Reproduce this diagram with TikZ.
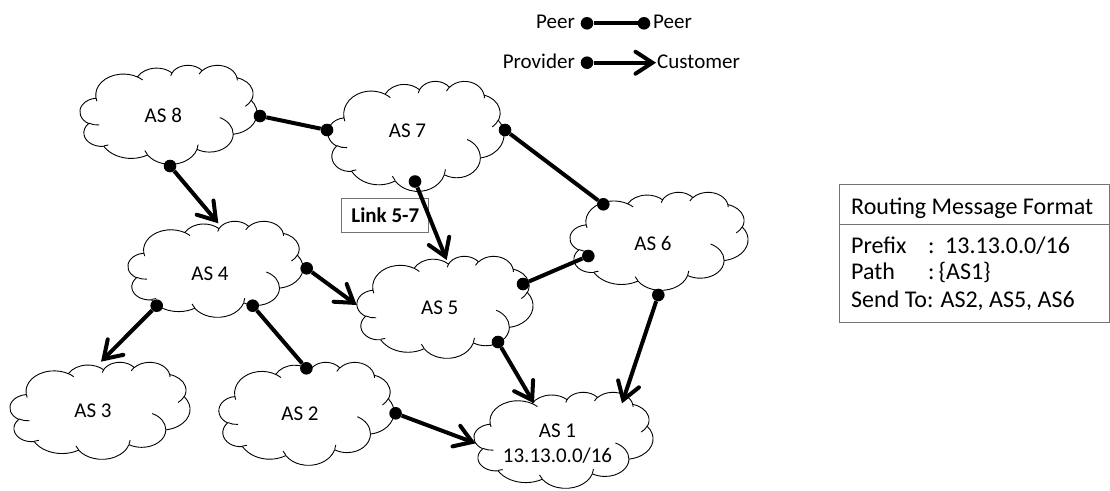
\documentclass[tikz,border=0pt]{standalone}
\usepackage{fontspec}
\setmainfont{Carlito}
\usetikzlibrary{decorations.markings}

% one elliptic arc of the Office cloud outline (visual angles -> parametric)
\newcommand\cloudarc[4]{arc[start angle={atan2(#1*sin(#3),#2*cos(#3))},delta angle={mod(atan2(#1*sin(#3+#4),#2*cos(#3+#4))-atan2(#1*sin(#3),#2*cos(#3))+720,360)},x radius=#1,y radius=#2]}

\tikzset{
  cloudline/.style={draw=black, line width=0.9pt, line join=round},
  ascloud/.pic={
    \path[cloudline, fill=white] (39.00,143.70)
      \cloudarc{67.53}{91.90}{-190.4875}{123.7805}
      \cloudarc{53.33}{72.67}{-144.1024}{89.9452}
      \cloudarc{43.65}{59.45}{-145.8079}{99.7230}
      \cloudarc{48.57}{65.95}{-130.9861}{117.2417}
      \cloudarc{53.33}{72.73}{-78.7089}{109.0269}
      \cloudarc{67.75}{92.20}{-46.2673}{130.2690}
      \cloudarc{57.85}{78.67}{0.6250}{114.0333}
      \cloudarc{67.52}{92.15}{22.4516}{115.1726}
      \cloudarc{77.20}{105.43}{66.2426}{75.7110}
      \cloudarc{43.60}{59.18}{-274.9421}{146.7356}
      \cloudarc{43.45}{59.45}{-246.8285}{152.5189} -- cycle;
    \path[cloudline]
      (46.93,261.77) \cloudarc{43.45}{59.45}{86.7420}{26.4295}
      (69.28,348.99) \cloudarc{43.60}{59.18}{73.6105}{11.4475}
      (164.78,390.90) \cloudarc{67.52}{92.15}{137.6242}{14.0811}
      (288.27,347.51) \cloudarc{67.52}{92.15}{6.4533}{15.9984}
      (341.29,229.54) \cloudarc{57.85}{78.67}{-70.2924}{70.9174}
      (417.98,153.54) \cloudarc{53.33}{72.73}{30.3180}{27.7515}
      (383.24,54.26) \cloudarc{48.57}{65.95}{-13.7443}{14.8589}
      (290.78,39.52) \cloudarc{48.57}{65.95}{-149.1815}{18.1954}
      (221.41,47.20) \cloudarc{43.65}{59.45}{-163.4943}{17.6864}
      (140.00,51.92) \cloudarc{67.53}{91.90}{-66.7070}{12.3194}
      (41.27,157.89) \cloudarc{67.53}{91.90}{157.6544}{11.8582};
  },
  cloudlabel/.style={anchor=base, inner sep=0pt, font=\fontsize{21}{25}\selectfont},
  asdot/.style={circle, fill=black, draw=none, inner sep=0pt, minimum size=12.6pt},
  peerline/.style={line width=4pt},
  provline/.style={line width=4pt, shorten >=3.6pt,
    postaction={decorate, decoration={markings, mark=at position 1 with {
      \draw[line width=4pt, line join=miter, line cap=round, shorten >=0pt, shorten <=0pt]
        (-20.5pt,11pt) -- (-3.6pt,0pt) -- (-20.5pt,-11pt);}}}},
  lgtext/.style={inner sep=0pt, font=\fontsize{21}{25}\selectfont},
  tbltext/.style={inner sep=0pt, anchor=base west, font=\fontsize{24}{28}\selectfont},
  tblbox/.style={draw=black!55, line width=1.2pt, inner sep=0pt, anchor=north west},
  linkbox/.style={draw=black!55, line width=1pt, inner sep=0pt, minimum width=87pt, minimum height=34pt, font=\fontsize{21}{25}\selectfont\bfseries},
}

\begin{document}
\begin{tikzpicture}[x=1pt,y=-1pt]
\useasboundingbox (0,0) rectangle (1110,490);

% clouds (left, top; width/height scale)
\pic[xscale=177/432, yscale=99/432]  at (80,65)   {ascloud};
\pic[xscale=176/432, yscale=110/432] at (328,81)  {ascloud};
\pic[xscale=178/432, yscale=98/432]  at (570,192) {ascloud};
\pic[xscale=176/432, yscale=102/432] at (357,256) {ascloud};
\pic[xscale=175/432, yscale=96/432]  at (128,221) {ascloud};
\pic[xscale=180/432, yscale=97/432]  at (10,362)  {ascloud};
\pic[xscale=175/432, yscale=103/432] at (219,362) {ascloud};
\pic[xscale=179/432, yscale=96/432]  at (474,392) {ascloud};

% labels
\node[cloudlabel] (as8) at (163.3,122.7) {AS 8};
\node[cloudlabel] (as7) at (407.5,137) {AS 7};
\node[cloudlabel] (as6) at (653,250) {AS 6};
\node[cloudlabel] (as5) at (439.7,314) {AS 5};
\node[cloudlabel] (as4) at (210,280) {AS 4};
\node[cloudlabel] (as3) at (93,417) {AS 3};
\node[cloudlabel] (as2) at (300,420) {AS 2};
\node[cloudlabel] (as1) at (557.5,437) {AS 1};
\node[cloudlabel] (as1p) at (557.5,462) {13.13.0.0/16};

% link label box
\node[linkbox] (link) at (385.3,215.5) {Link 5-7};

% dots on cloud borders
\node[asdot] (d8r) at (260,116) {};
\node[asdot] (d8b) at (170,166) {};
\node[asdot] (d7l) at (327,130) {};
\node[asdot] (d7r) at (505,130) {};
\node[asdot] (d7b) at (415,181.5) {};
\node[asdot] (d6a) at (603.3,204.3) {};
\node[asdot] (d6l) at (588.3,256) {};
\node[asdot] (d6b) at (658.3,295) {};
\node[asdot] (d5r) at (523,284) {};
\node[asdot] (d5b) at (498,342) {};
\node[asdot] (d4r) at (306.7,268.3) {};
\node[asdot] (d4l) at (156.7,305.7) {};
\node[asdot] (d4b) at (252.7,305.7) {};
\node[asdot] (d2t) at (306.4,368.3) {};
\node[asdot] (d2r) at (395.6,413.3) {};

% arrow tips
\coordinate (t4) at (218.3,223.3);
\coordinate (t5a) at (446.7,260);
\coordinate (t5b) at (356.7,305);
\coordinate (t3) at (101,361.7);
\coordinate (t1a) at (534,403.3);
\coordinate (t1b) at (622,403.3);
\coordinate (t1c) at (475.6,443.3);

% peer links
\draw[peerline] (d8r) -- (d7l);
\draw[peerline] (d7r) -- (d6a);
\draw[peerline] (d6l) -- (d5r);
\draw[peerline] (d4b) -- (d2t);

% provider -> customer links
\draw[provline] (d8b) -- (t4);
\draw[provline] (d7b) -- (t5a);
\draw[provline] (d4r) -- (t5b);
\draw[provline] (d4l) -- (t3);
\draw[provline] (d5b) -- (t1a);
\draw[provline] (d6b) -- (t1b);
\draw[provline] (d2r) -- (t1c);

% legend
\node[lgtext, anchor=base east] (lpa) at (575,28) {Peer};
\node[asdot] (lp1) at (587,23.3) {};
\node[asdot] (lp2) at (644,23.3) {};
\node[lgtext, anchor=base west] (lpb) at (653,28) {Peer};
\draw[peerline] (lp1) -- (lp2);
\node[lgtext, anchor=base east] (lqa) at (575,68) {Provider};
\node[asdot] (lq1) at (587,62.7) {};
\coordinate (lq2) at (656,62.7);
\draw[provline] (lq1) -- (lq2);
\node[lgtext, anchor=base west] (lqb) at (657,68) {Customer};

% routing message table
\node[tblbox, minimum width=269.5pt, minimum height=40pt] (thead) at (839,184) {};
\node[tblbox, minimum width=269.5pt, minimum height=98pt] (tbody) at (839,224) {};
\node[tbltext] (tht) at (851,214) {Routing Message Format};
\node[tbltext] (r1a) at (851,253) {Prefix};
\node[tbltext] (r1b) at (928,253) {:};
\node[tbltext] (r1c) at (945,253) {13.13.0.0/16};
\node[tbltext] (r2a) at (851,279) {Path};
\node[tbltext] (r2b) at (928,279) {:\,\{AS1\}};
\node[tbltext] (r3a) at (851,307) {Send To: AS2, AS5, AS6};
\end{tikzpicture}
\end{document}
